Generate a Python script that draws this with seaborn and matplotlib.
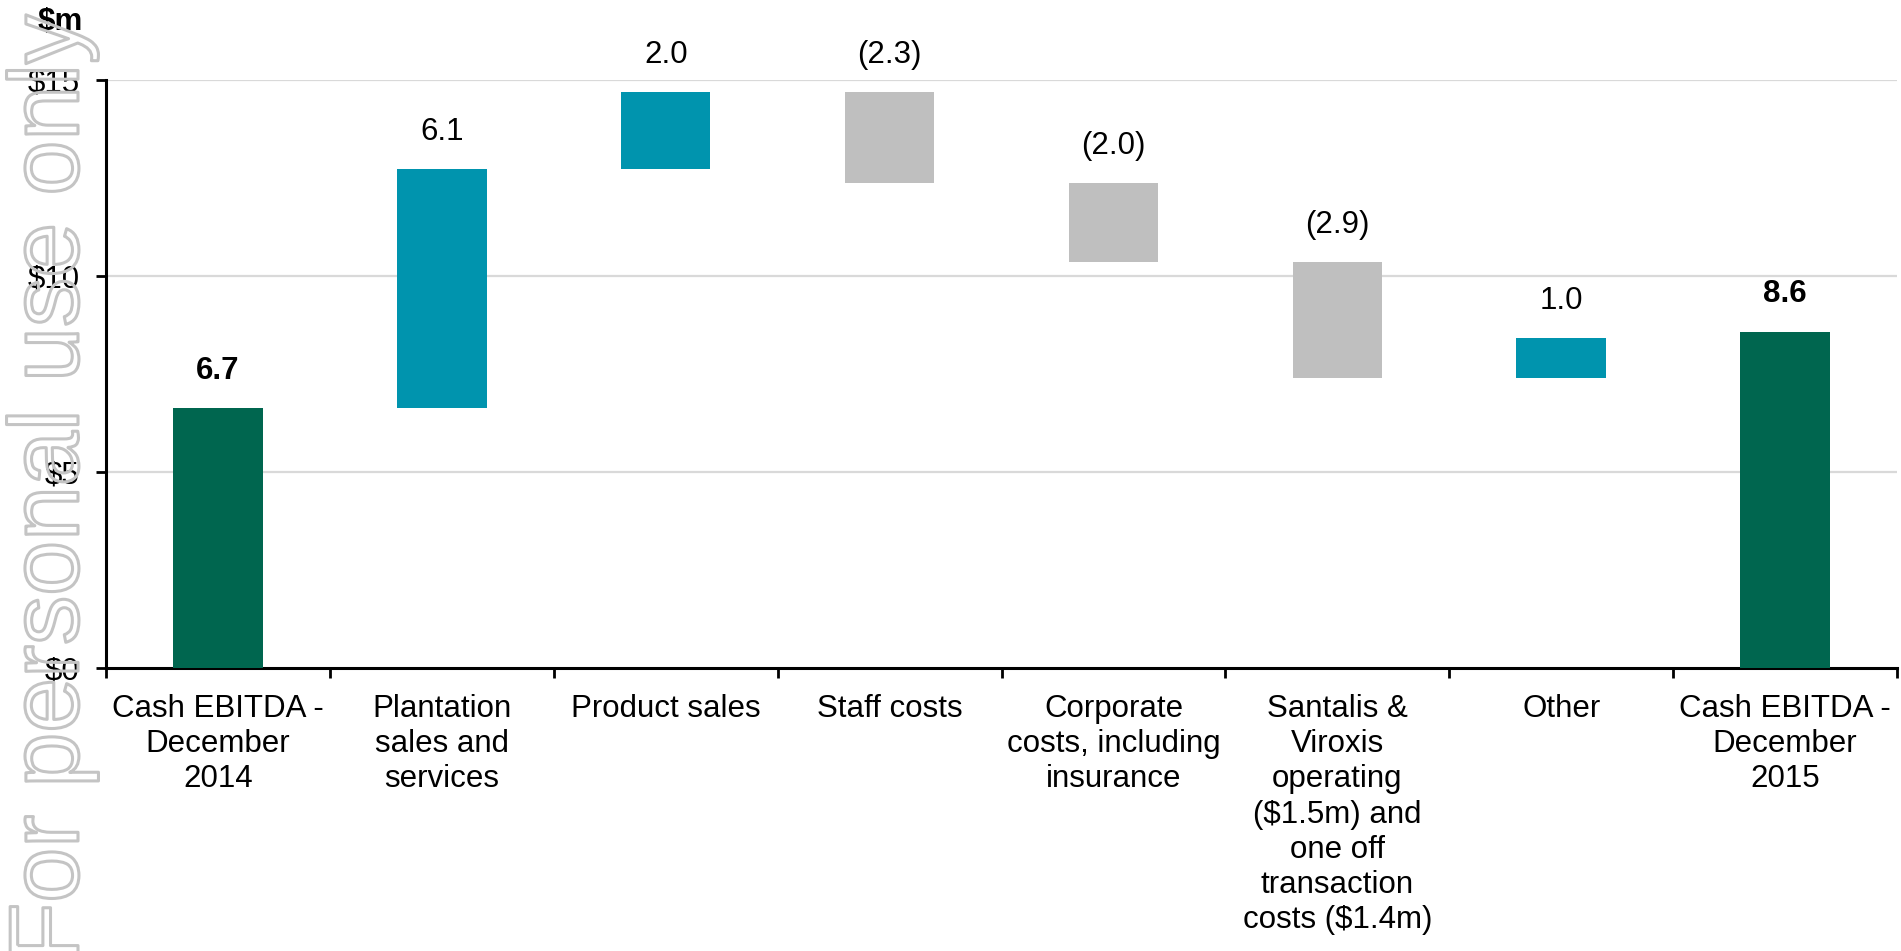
import matplotlib
matplotlib.use("Agg")
import matplotlib.pyplot as plt
import matplotlib.patheffects as pe
import seaborn as sns
import numpy as np

# ---- data ----
categories = [
    "Cash EBITDA -\nDecember\n2014",
    "Plantation\nsales and\nservices",
    "Product sales",
    "Staff costs",
    "Corporate\ncosts, including\ninsurance",
    "Santalis &\nViroxis\noperating\n(\\$1.5m) and\none off\ntransaction\ncosts (\\$1.4m)",
    "Other",
    "Cash EBITDA -\nDecember\n2015",
]
start_value = 6.63
changes = [6.09, 1.97, -2.32, -2.02, -2.94, 1.01]
end_value = 8.58
value_labels = ["6.7", "6.1", "2.0", "(2.3)", "(2.0)", "(2.9)", "1.0", "8.6"]
bold_labels = [True, False, False, False, False, False, False, True]
y_ticks = [0, 5, 10, 15]
y_tick_labels = ["\\$0", "\\$5", "\\$10", "\\$15"]

# colours
C_TOTAL = "#00664F"
C_POS = "#0094AE"
C_NEG = "#BFBFBF"

FS = 22.5

# ---- derived waterfall geometry ----
bottoms = [0.0]
heights = [start_value]
tops = [start_value]
colors = [C_TOTAL]
level = start_value
for d in changes:
    new = level + d
    bottoms.append(min(level, new))
    heights.append(abs(d))
    tops.append(max(level, new))
    colors.append(C_POS if d > 0 else C_NEG)
    level = new
bottoms.append(0.0)
heights.append(end_value)
tops.append(end_value)
colors.append(C_TOTAL)

sns.set_theme(style="white")
plt.rcParams["font.family"] = ["Liberation Sans", "DejaVu Sans"]

W, H = 1901, 951
fig = plt.figure(figsize=(W / 100, H / 100), dpi=100)
ax = fig.add_axes([106 / W, 1 - 668 / H, (1897 - 106) / W, (668 - 80) / H])

xpos = list(range(len(categories)))
sns.barplot(x=xpos, y=heights, bottom=bottoms, color=C_POS, width=0.40,
            saturation=1, ax=ax, zorder=3, linewidth=0)
for patch, c in zip(ax.patches, colors):
    patch.set_facecolor(c)
    patch.set_edgecolor("none")

ax.set_xlim(-0.5, len(categories) - 0.5)
ax.set_ylim(0, 15)

# grid
for yv in y_ticks[1:]:
    ax.axhline(yv, color="#D9D9D9", lw=1.6, zorder=1)

# spines
for s in ["top", "right"]:
    ax.spines[s].set_visible(False)
for s in ["left", "bottom"]:
    ax.spines[s].set_color("black")
    ax.spines[s].set_linewidth(2.2)

ax.set_yticks(y_ticks)
ax.set_yticklabels(y_tick_labels, fontsize=FS, color="black")
ax.tick_params(axis="y", direction="out", length=7, width=2, color="black",
               pad=12, left=True)

# x: boundary ticks (major), labels at centres (minor)
ax.set_xticks(np.arange(-0.5, len(categories), 1.0))
ax.set_xticklabels([])
ax.tick_params(axis="x", which="major", direction="out", length=7, width=2,
               color="black", bottom=True)
ax.set_xticks(xpos, minor=True)
ax.set_xticklabels(categories, minor=True, fontsize=FS, color="black",
                   linespacing=1.23)
ax.tick_params(axis="x", which="minor", length=0, pad=18.5)
ax.set_xlabel("")
ax.set_ylabel("")

# value labels
for i, (t, lab, b) in enumerate(zip(tops, value_labels, bold_labels)):
    ax.annotate(lab, xy=(i, t), xytext=(0, 21), textcoords="offset points",
                ha="center", va="baseline", fontsize=FS,
                fontweight="bold" if b else "normal", color="black",
                annotation_clip=False, zorder=5)

# unit label
fig.text(60 / W, 1 - 22 / H, "\\$m", fontsize=FS, fontweight="bold",
         ha="center", va="center", color="black")

# watermark
wm = fig.text(78 / W, 1 - 14 / H, "For personal use only", fontsize=71,
              rotation=90, rotation_mode="anchor", ha="right", va="baseline",
              color="none", zorder=10)
wm.set_path_effects([pe.Stroke(linewidth=2.2, foreground="#C4C4C4")])

fig.savefig("out.png", dpi=100, facecolor="white")
